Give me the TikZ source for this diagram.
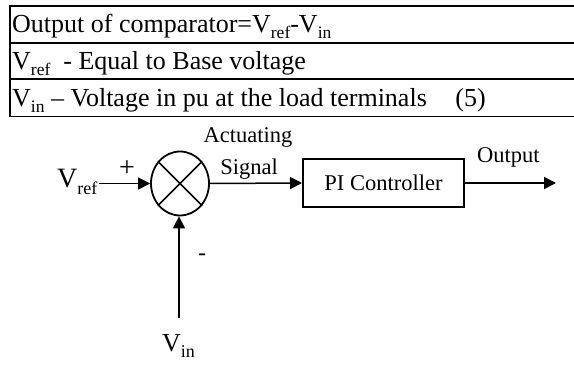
\documentclass[tikz,border=0pt]{standalone}
\usepackage{fontspec}
\setmainfont{Liberation Serif}
\usetikzlibrary{arrows.meta,shapes.geometric}
\newcommand\tsub[1]{\raisebox{-0.22em}{\fontsize{17.5}{17.5}\selectfont #1}}
\newcommand\dsub[1]{\raisebox{-0.22em}{\fontsize{18}{18}\selectfont #1}}
\tikzset{
  tabtext/.style={anchor=base west,inner sep=0pt,font=\fontsize{26}{30}\selectfont},
  dtext/.style={inner sep=0pt,font=\fontsize{22.5}{27}\selectfont},
  vtext/.style={anchor=base west,inner sep=0pt,font=\fontsize{28}{32}\selectfont},
  sig/.style={line width=1.5pt,-{Triangle[length=12pt,width=12pt]}},
}
\begin{document}
\begin{tikzpicture}[x=1pt,y=-1pt]
\useasboundingbox (0,0) rectangle (574,366);
% table
\draw[line width=2.5pt] (10,6) -- (574,6);
\draw[line width=2pt] (10,43) -- (574,43);
\draw[line width=2pt] (10,79.5) -- (574,79.5);
\draw[line width=1.5pt] (10,116.5) -- (574,116.5);
\draw[line width=2.5pt] (10,5) -- (10,117.5);
\node[tabtext] (r1) at (12,33) {Output of comparator=V\tsub{ref}-V\tsub{in}};
\node[tabtext] (r2) at (12,70) {V\tsub{ref}\ \ - Equal to Base voltage};
\node[tabtext] (r3) at (12,107) {V\tsub{in} -- Voltage in pu at the load terminals\hspace*{1.1em}(5)};
% diagram
\node[ellipse,draw,line width=1.8pt,minimum width=58pt,minimum height=64pt,inner sep=0pt] (sum) at (180,183.5) {};
\draw[line width=1.5pt] (sum.45) -- (sum.225);
\draw[line width=1.5pt] (sum.135) -- (sum.315);
\node[vtext] (vref) at (57,188) {V\dsub{ref}};
\coordinate (vrefend) at (99,183.5);
\draw[sig] (vrefend) -- (sum.west);
\node[dtext,font=\fontsize{28}{30}\selectfont] (plus) at (127,169) {+};
\node[draw,line width=2pt,minimum width=161pt,minimum height=48pt,inner sep=0pt,dtext] (pi) at (383.5,183) {PI Controller};
\draw[sig] (sum.east) -- (pi.west);
\node[dtext,anchor=base] (actA) at (248,143) {Actuating};
\node[dtext,anchor=base] (actB) at (249,175) {Signal};
\coordinate (outend) at (556,183);
\draw[sig] (pi.east) -- (outend);
\node[dtext,anchor=base west] (outlbl) at (477,163) {Output};
\coordinate (vinstart) at (179,318);
\draw[sig] (vinstart) -- (vinstart |- sum.south);
\node[dtext,font=\fontsize{24}{27}\selectfont] (minus) at (202,257) {-};
\node[vtext,font=\fontsize{26}{30}\selectfont] (vin) at (162,352) {V\dsub{in}};
\end{tikzpicture}
\end{document}
